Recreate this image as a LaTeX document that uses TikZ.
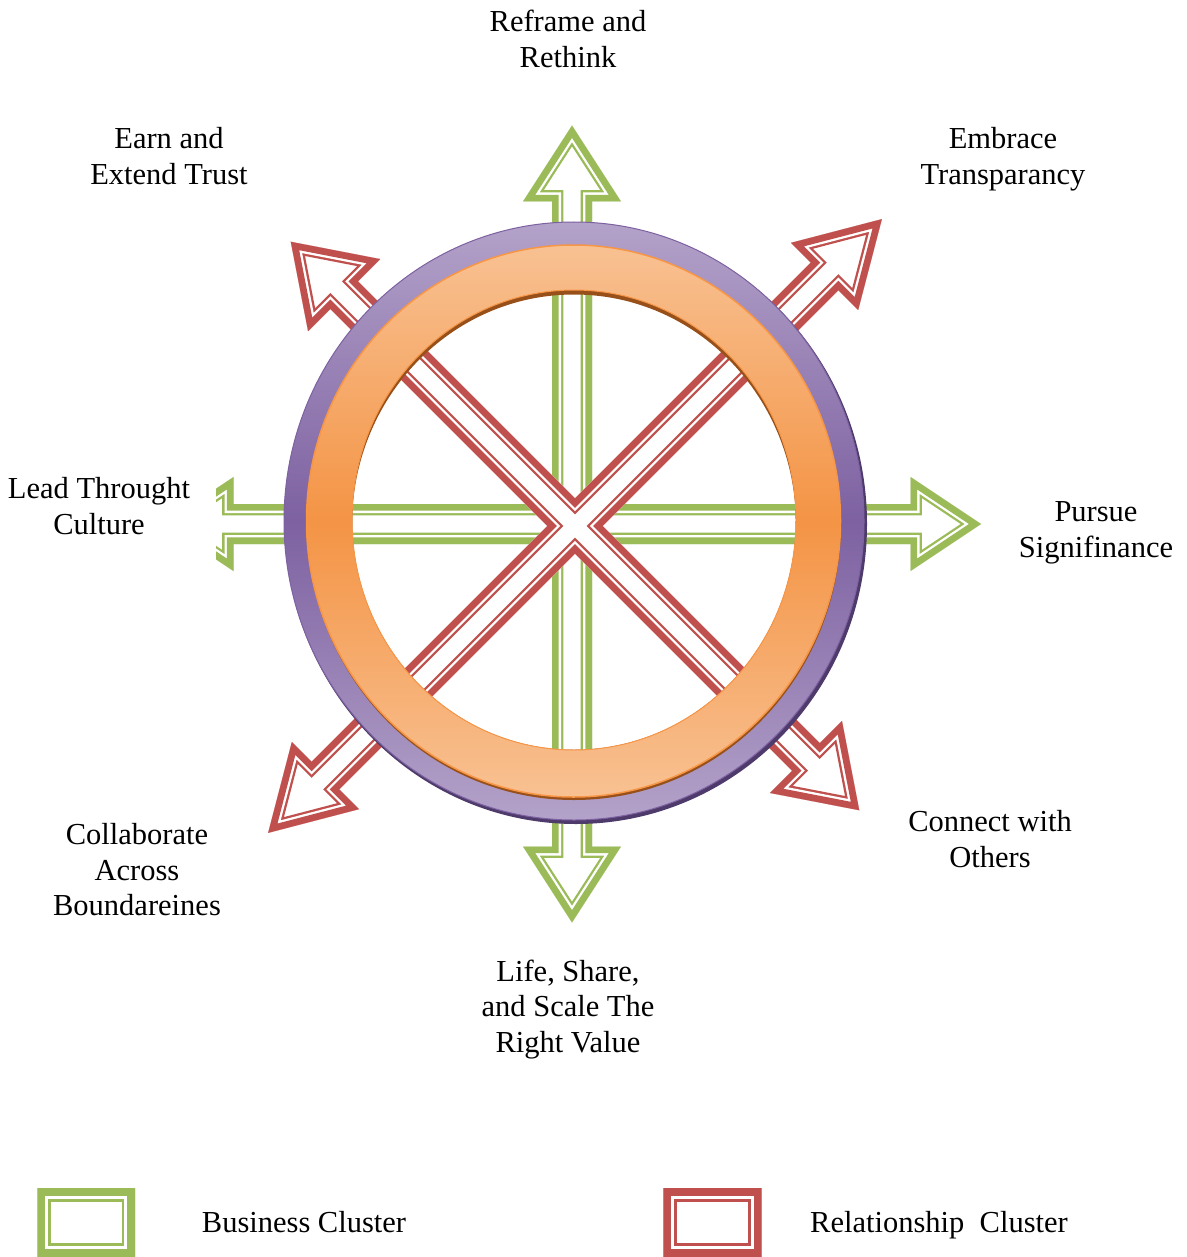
\documentclass[tikz,border=0pt]{standalone}
\usepackage{fontspec}
\setmainfont{Liberation Serif}
\definecolor{grn}{HTML}{9BBB59}
\definecolor{rd}{HTML}{C0504D}
\definecolor{purL}{HTML}{B3A2C9}
\definecolor{purD}{HTML}{7D61A1}
\definecolor{purS}{HTML}{4E3B6B}
\definecolor{orL}{HTML}{F8C192}
\definecolor{orD}{HTML}{F49445}
\definecolor{orE}{HTML}{F79646}
\definecolor{brn}{HTML}{98501A}
% cross-shaped union of two double-headed arrows
% #1 half shaft width, #2 head base (x arms), #3 tip (x arms), #4 head half width (x arms), #5-#7 same for y arms
\newcommand\crosspath[7]{(#1,-#1) -- (#2,-#1) -- (#2,-#4) -- (#3,0) -- (#2,#4) -- (#2,#1) -- (#1,#1) -- (#1,#5) -- (#7,#5) -- (0,#6) -- (-#7,#5) -- (-#1,#5) -- (-#1,#1) -- (-#2,#1) -- (-#2,#4) -- (-#3,0) -- (-#2,-#4) -- (-#2,-#1) -- (-#1,-#1) -- (-#1,-#5) -- (-#7,-#5) -- (0,-#6) -- (#7,-#5) -- (#1,-#5) -- cycle}
% thick-thin compound outline drawn inside a closed path
\newcommand\compoundline[5]{%
  \begin{scope}
    \clip #2;
    \fill[white] #2;
    \draw[#1, line width=#3] #2;
    \draw[white, line width=#4] #2;
    \draw[#1, line width=#5] #2;
  \end{scope}}
\tikzset{
  lbl/.style={font=\fontsize{30.5}{35.5}\selectfont, align=center, inner sep=0pt},
  hole/.style={x radius=222pt, y radius=230pt},
}
\begin{document}
\begin{tikzpicture}[x=1pt,y=-1pt, line join=miter, miter limit=10]
\useasboundingbox (0,0) rectangle (1186,1257);
\fill[white] (0,0) rectangle (1186,1257);

% green cluster (horizontal + vertical double arrows)
\begin{scope}[shift={(572,524)}]
  \compoundline{grn}{\crosspath{20}{338.5}{409}{47}{322.5}{398.5}{49}}{22.6pt}{18pt}{13.4pt}
\end{scope}
% red cluster (diagonal double arrows)
\begin{scope}[shift={(575,526)}, rotate=45]
  \compoundline{rd}{\crosspath{19.5}{353}{434}{47.5}{326.5}{402}{51}}{22.6pt}{18pt}{13.4pt}
\end{scope}

% purple ring
\fill[purS, even odd rule] (576,524) ellipse [x radius=291pt, y radius=300pt] (574,520) ellipse [hole];
\shade[even odd rule, top color=purL, bottom color=purL, middle color=purD]
  (574,521) ellipse [x radius=290pt, y radius=299pt] (574,520) ellipse [hole];
\draw[purD, line width=1pt] (574,521) ellipse [x radius=290pt, y radius=299pt];
% orange ring
\fill[brn, even odd rule] (574,524) ellipse [x radius=267pt, y radius=276pt] (574,520) ellipse [hole];
\shade[even odd rule, top color=orL, bottom color=orL, middle color=orD]
  (573.5,521) ellipse [x radius=267pt, y radius=276pt] (574,520) ellipse [hole];
\draw[orE, line width=1.5pt] (573.5,521) ellipse [x radius=267pt, y radius=276pt];
\begin{scope}
  \clip (574,520) ellipse [hole];
  \fill[brn, even odd rule] (300,250) rectangle (850,800) (574,524.5) ellipse [hole];
\end{scope}
\draw[orE, line width=1pt] (574,520) ellipse [hole];

% labels
\node[lbl] (ttop) at (568,39) {Reframe and\\Rethink};
\node[lbl] (tnw) at (169,156) {Earn and\\Extend Trust};
\node[lbl] (tne) at (1003,159) {Embrace\\Transparancy};
\node[lbl, fill=white, minimum width=234pt, minimum height=134pt] (tw) at (99,506) {Lead Throught\\Culture};
\node[lbl] (te) at (1096,533) {Pursue\\Signifinance};
\node[lbl] (tsw) at (137,870) {Collaborate\\Across\\Boundareines};
\node[lbl] (tse) at (990,839) {Connect with\\Others};
\node[lbl] (ts) at (568,1009.5) {Life, Share,\\and Scale The\\Right Value};

% legend
\compoundline{grn}{(37.3,1188.3) rectangle (135,1256.7)}{26.6pt}{22pt}{16pt}
\compoundline{rd}{(663.3,1188.3) rectangle (761.7,1256.7)}{26.6pt}{22pt}{16pt}
\node[lbl] (lbus) at (304,1222) {Business Cluster};
\node[lbl] (lrel) at (939,1225) {Relationship\ \ Cluster};
\end{tikzpicture}
\end{document}
